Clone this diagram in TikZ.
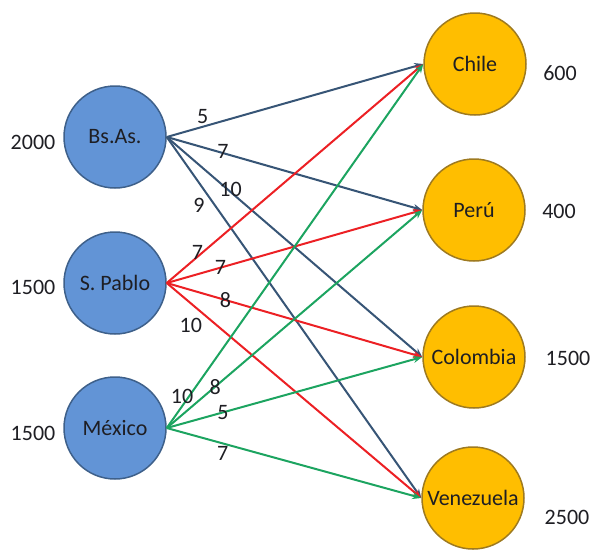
\documentclass[tikz,border=0pt]{standalone}
\usepackage{fontspec}
\setmainfont{Carlito}
\usetikzlibrary{arrows.meta}
\definecolor{srcfill}{RGB}{98,148,214}
\definecolor{srcline}{RGB}{62,96,138}
\definecolor{dstfill}{RGB}{255,190,0}
\definecolor{dstline}{RGB}{158,122,32}
\definecolor{bsline}{RGB}{55,85,118}
\definecolor{spline}{RGB}{236,32,36}
\definecolor{mxline}{RGB}{28,164,96}
\definecolor{txt}{RGB}{30,30,35}
\tikzset{
  source/.style={circle,draw=srcline,line width=1.5pt,fill=srcfill,minimum size=102pt,inner sep=0pt,text=txt},
  sink/.style={circle,draw=dstline,line width=1.5pt,fill=dstfill,minimum size=102pt,inner sep=0pt,text=txt},
  route/.style={line width=2pt,-{Stealth[length=9pt,width=7pt]}},
  cost/.style={inner sep=2pt,text=txt},
  qty/.style={text=txt}
}
\begin{document}
\begin{tikzpicture}[x=1pt,y=-1pt,font=\fontsize{22}{26}\selectfont]
\useasboundingbox (0,0) rectangle (596,552);
% origins
\node[source] (bsas) at (115,137) {Bs.As.};
\node[source] (spablo) at (115,283) {S. Pablo};
\node[source] (mexico) at (115,428) {México};
% destinations
\node[sink] (chile) at (475,64) {Chile};
\node[sink] (peru) at (474,210) {Perú};
\node[sink] (colombia) at (474,357) {Colombia};
\node[sink] (venezuela) at (473,498) {Venezuela};
% supply and demand
\node[qty] (s1) at (33,142) {2000};
\node[qty] (s2) at (33,287) {1500};
\node[qty] (s3) at (33,433) {1500};
\node[qty] (d1) at (560,73) {600};
\node[qty] (d2) at (559,211) {400};
\node[qty] (d3) at (568,358) {1500};
\node[qty] (d4) at (567,517) {2500};
% routes from Bs.As.
\draw[route,bsline] (bsas.east) -- node[cost,pos=0.14,above] {5} (chile.west);
\draw[route,bsline] (bsas.east) -- node[cost,pos=0.22,yshift=2pt] {7} (peru.west);
\draw[route,bsline] (bsas.east) -- node[cost,pos=0.25,yshift=3pt] {10} (colombia.west);
\draw[route,bsline] (bsas.east) -- node[cost,pos=0.16,below left] {9} (venezuela.west);
% routes from S. Pablo
\draw[route,spline] (spablo.east) -- node[cost,pos=0.12,yshift=4pt] {7} (chile.west);
\draw[route,spline] (spablo.east) -- node[cost,pos=0.21] {7} (peru.west);
\draw[route,spline] (spablo.east) -- node[cost,pos=0.23] {8} (colombia.west);
\draw[route,spline] (spablo.east) -- node[cost,pos=0.15,below left] {10} (venezuela.west);
% routes from Mexico
\draw[route,mxline] (mexico.east) -- node[cost,pos=0.06,above] {10} (chile.west);
\draw[route,mxline] (mexico.east) -- node[cost,pos=0.19] {8} (peru.west);
\draw[route,mxline] (mexico.east) -- node[cost,pos=0.22] {5} (colombia.west);
\draw[route,mxline] (mexico.east) -- node[cost,pos=0.22,below] {7} (venezuela.west);
\end{tikzpicture}
\end{document}
